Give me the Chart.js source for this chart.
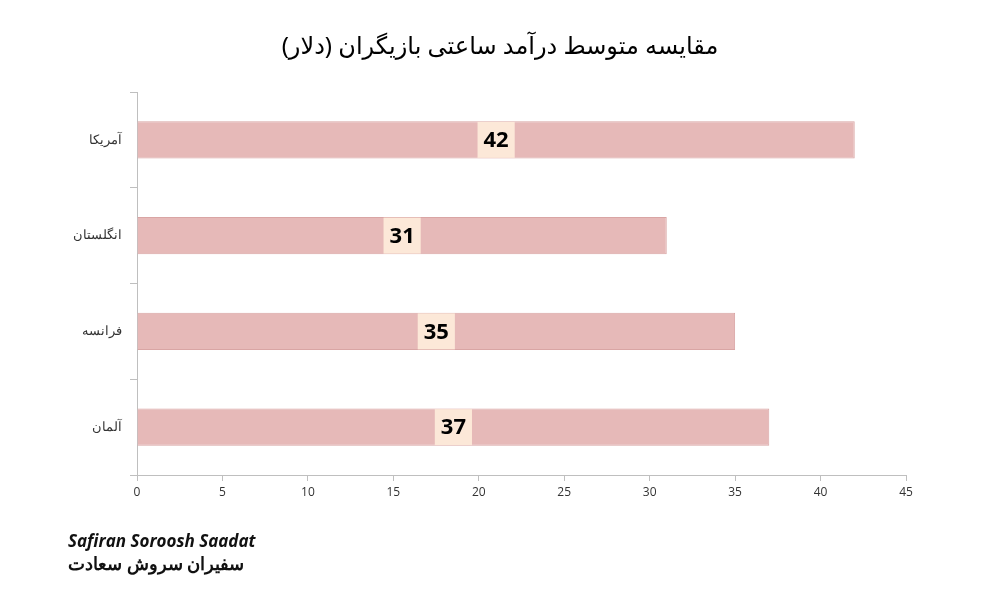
<!DOCTYPE html>
<html><head><meta charset="utf-8">
<script src="https://cdn.jsdelivr.net/npm/chart.js@4"></script>
<style>html,body{margin:0;background:#fff}#w{width:1000px;height:600px;position:relative}
#logo{position:absolute;left:68px;top:530px;font-family:'Open Sans',sans-serif;font-style:italic;font-weight:bold;font-size:17px;color:#111;line-height:22px}
</style></head><body><div id="w"><canvas id="c" width="1000" height="600"></canvas>
<div id="logo">Safiran Soroosh Saadat<br><span style="font-family:'Noto Sans',sans-serif;font-style:normal;font-size:18px">سفیران سروش سعادت</span></div></div>
<script>
const titleText = 'مقایسه متوسط درآمد ساعتی بازیگران (دلار)';
const categories = ['آمریکا','انگلستان','فرانسه','آلمان'];
const values = [42,31,35,37];
const xTicks = [0,5,10,15,20,25,30,35,40,45];

const deco = {
  id:'deco',
  afterDraw(chart){
    const ctx=chart.ctx;
    ctx.save();
    ctx.fillStyle='#000';ctx.font='24px "Noto Sans", "DejaVu Sans", sans-serif';
    ctx.textAlign='center';ctx.textBaseline='middle';
    ctx.fillText(titleText,500,47);
    const meta=chart.getDatasetMeta(0);
    meta.data.forEach((b,i)=>{
      const x=(b.x+b.base)/2, y=b.y;
      ctx.font='bold 22px "Open Sans", sans-serif';
      const t=String(values[i]);
      const w=ctx.measureText(t).width+12;
      ctx.fillStyle='#fce8d8';
      ctx.fillRect(x-w/2,y-18,w,36);
      ctx.fillStyle='#000';
      ctx.fillText(t,x,y+1);
    });
    ctx.restore();
  }
};

new Chart(document.getElementById('c'),{
  type:'bar',
  data:{labels:categories,datasets:[{data:values,backgroundColor:'#e6b9b8',borderColor:'#d9a5a4',borderWidth:1,categoryPercentage:1,barPercentage:0.39}]},
  options:{
    indexAxis:'y',responsive:false,animation:false,
    layout:{padding:{top:92,right:94,left:0,bottom:0}},
    plugins:{legend:{display:false},tooltip:{enabled:false}},
    scales:{
      x:{min:0,max:45,afterBuildTicks(s){s.ticks=xTicks.map(v=>({value:v}));},
        afterFit(s){s.height=125;},
        grid:{drawOnChartArea:false,tickLength:6,color:'#bfbfbf'},border:{color:'#bfbfbf'},
        ticks:{color:'#333',font:{size:12,family:'"Open Sans", sans-serif'},padding:4}},
      y:{afterFit(s){s.width=137;},
        grid:{drawOnChartArea:false,offset:true,tickLength:7,color:'#bfbfbf'},border:{color:'#bfbfbf'},
        ticks:{color:'#333',font:{size:13,family:'"Noto Sans", sans-serif'},padding:8}}
    }
  },
  plugins:[deco]
});
</script></body></html>
